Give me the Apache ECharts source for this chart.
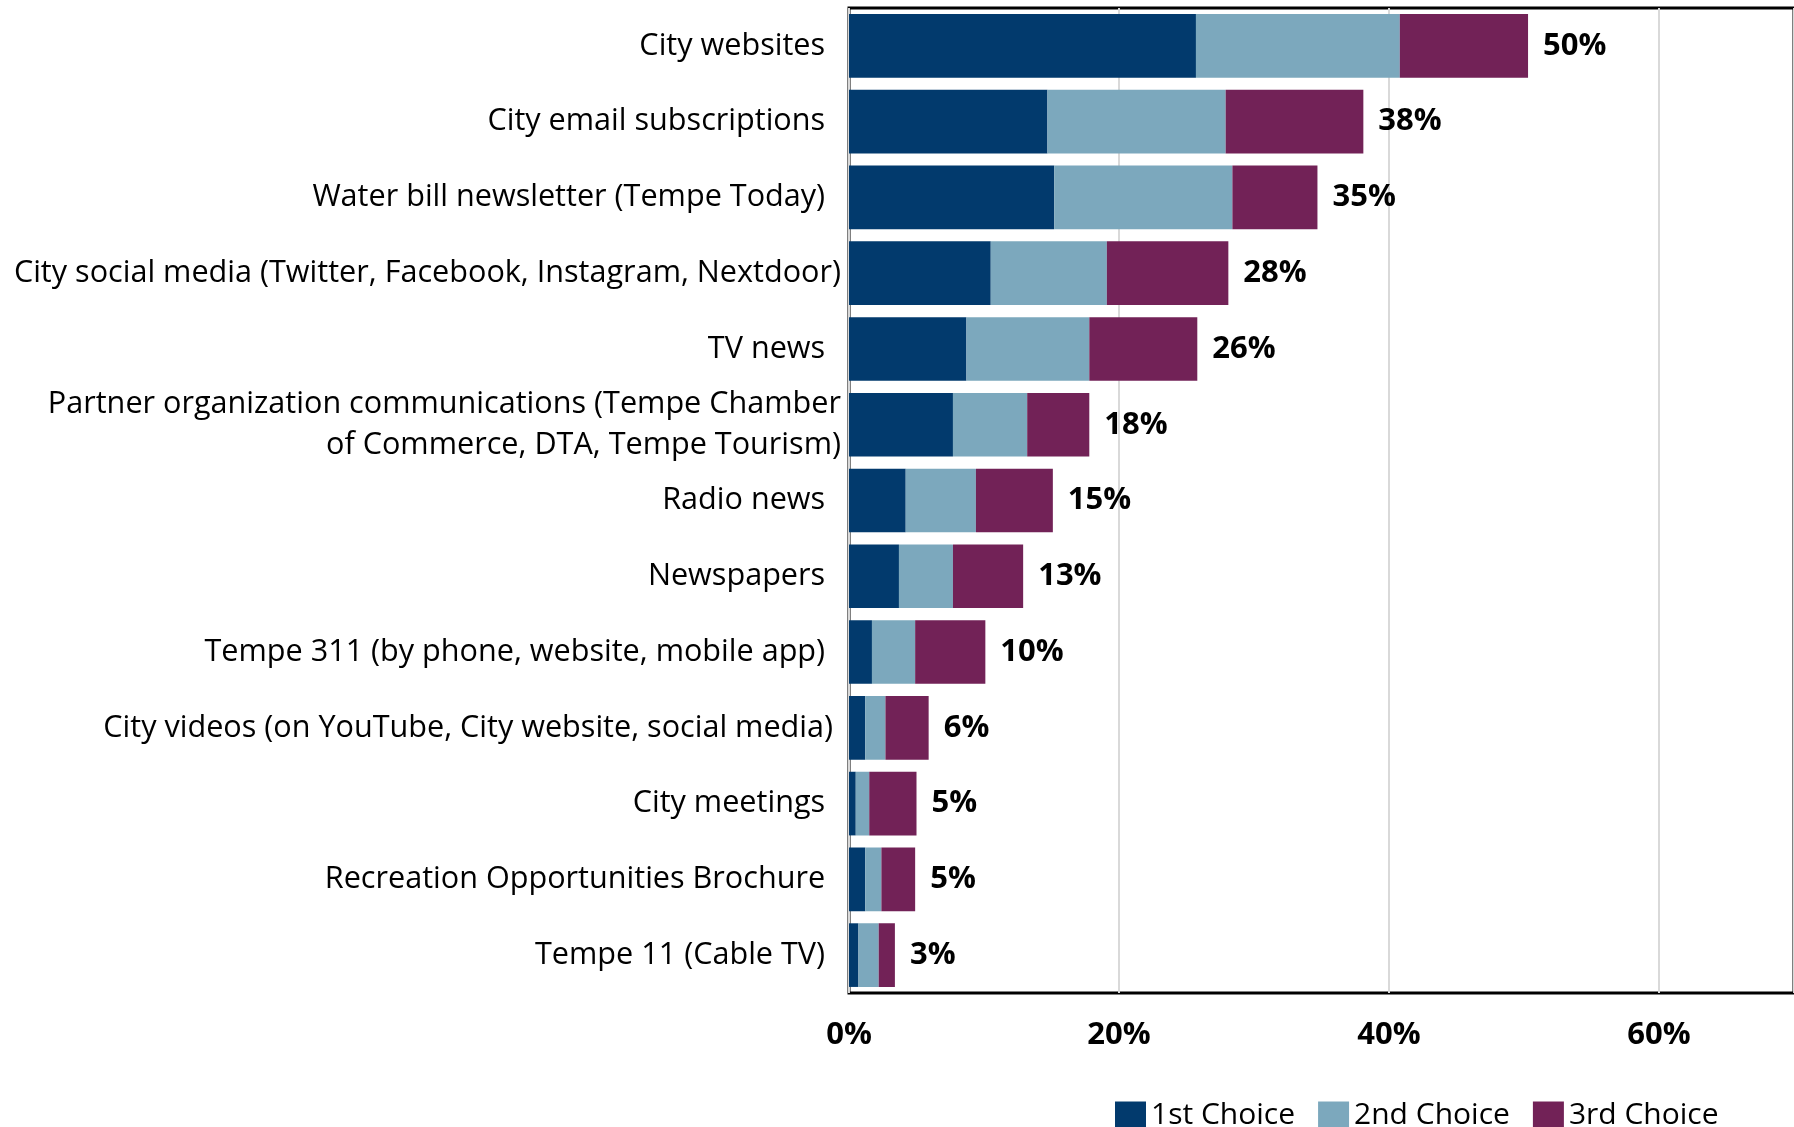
<!DOCTYPE html>
<html>
<head>
<meta charset="utf-8">
<script src="https://cdn.jsdelivr.net/npm/echarts@6/dist/echarts.min.js"></script>
<style>
  html, body { margin: 0; padding: 0; background: #fff; }
  #chart { width: 1794px; height: 1127px; }
</style>
</head>
<body>
<div id="chart"></div>
<script>
// Preferred sources of city information, share of respondents (%)
const categories = [
  'City websites  ',
  'City email subscriptions  ',
  'Water bill newsletter (Tempe Today)  ',
  'City social media (Twitter, Facebook, Instagram, Nextdoor)',
  'TV news  ',
  'Partner organization communications (Tempe Chamber\nof Commerce, DTA, Tempe Tourism)',
  'Radio news  ',
  'Newspapers  ',
  'Tempe 311 (by phone, website, mobile app)  ',
  'City videos (on YouTube, City website, social media) ',
  'City meetings  ',
  'Recreation Opportunities Brochure  ',
  'Tempe 11 (Cable TV)  '
];
const firstChoice  = [25.7, 14.7, 15.2, 10.5, 8.7, 7.7, 4.2, 3.7, 1.7, 1.2, 0.5, 1.2, 0.7];
const secondChoice = [15.1, 13.2, 13.2, 8.6, 9.1, 5.5, 5.2, 4.0, 3.2, 1.5, 1.0, 1.2, 1.5];
const thirdChoice  = [9.5, 10.2, 6.3, 9.0, 8.0, 4.6, 5.7, 5.2, 5.2, 3.2, 3.5, 2.5, 1.2];
const seriesNames = ['1st Choice', '2nd Choice', '3rd Choice'];
const xTicks = [0, 20, 40, 60];

const totals = categories.map((_, i) => firstChoice[i] + secondChoice[i] + thirdChoice[i]);

const FONT = '"Open Sans", "Noto Sans", sans-serif';
const chart = echarts.init(document.getElementById('chart'));

const barBase = {
  type: 'bar',
  stack: 'all',
  barCategoryGap: '16%',
  emphasis: { disabled: true }
};

chart.setOption({
  animation: false,
  textStyle: { fontFamily: FONT },
  grid: {
    left: 849, top: 8, right: -7, bottom: 134,
    show: true, borderColor: '#000', borderWidth: 3, backgroundColor: 'transparent',
    containLabel: false
  },
  legend: {
    data: seriesNames,
    left: 1115, top: 1099, padding: 0,
    icon: 'rect', itemWidth: 31, itemHeight: 27, itemGap: 23,
    textStyle: { fontFamily: FONT, fontSize: 30, color: '#000', lineHeight: 32 }
  },
  xAxis: {
    type: 'value',
    min: xTicks[0], max: 70, interval: xTicks[1] - xTicks[0],
    axisLine: { show: false },
    axisTick: { show: false },
    splitLine: { show: true, lineStyle: { color: '#d9d9d9', width: 2 } },
    axisLabel: {
      formatter: '{value}%', showMaxLabel: false, margin: 27,
      fontFamily: FONT, fontSize: 31, fontWeight: 'bold', color: '#000'
    }
  },
  yAxis: {
    type: 'category',
    data: categories,
    inverse: true,
    axisLine: { show: false },
    axisTick: { show: false },
    splitLine: { show: false },
    axisLabel: {
      margin: 8, fontFamily: FONT, fontSize: 30.6, color: '#000', lineHeight: 41, align: 'right',
      padding: [12, 0, 0, 0]
    }
  },
  series: [
    Object.assign({}, barBase, { name: seriesNames[0], data: firstChoice, itemStyle: { color: '#023a6d' } }),
    Object.assign({}, barBase, { name: seriesNames[1], data: secondChoice, itemStyle: { color: '#7ca8bd' } }),
    Object.assign({}, barBase, {
      name: seriesNames[2], data: thirdChoice, itemStyle: { color: '#722257' },
      label: {
        show: true, position: 'right', distance: 15, padding: [8, 0, 0, 0],
        fontFamily: FONT, fontSize: 31, fontWeight: 'bold', color: '#000',
        formatter: p => Math.round(totals[p.dataIndex]) + '%'
      }
    })
  ]
});
</script>
</body>
</html>
